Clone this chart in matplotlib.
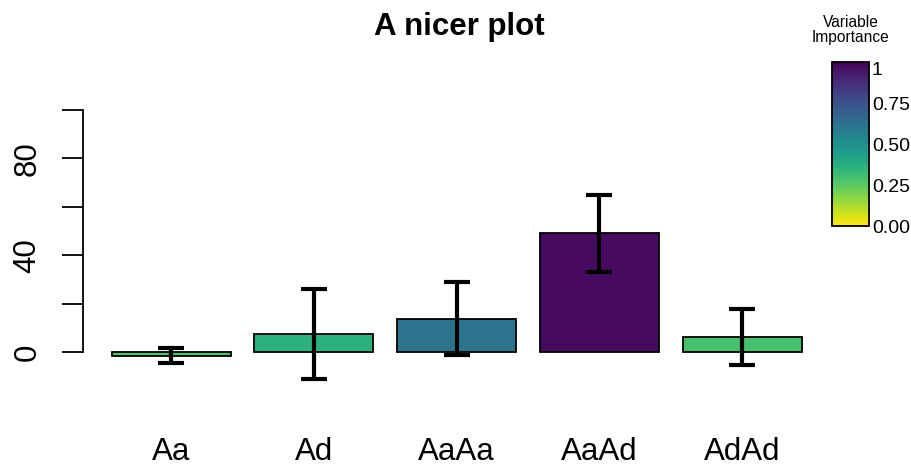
import matplotlib
matplotlib.use("Agg")
import matplotlib.pyplot as plt
import numpy as np
from matplotlib import cm, colors

plt.rcParams['font.family'] = ['Liberation Sans', 'DejaVu Sans']

categories = ["Aa", "Ad", "AaAa", "AaAd", "AdAd"]
means = [-1.5, 7.5, 13.8, 49.0, 6.2]
errors = [3.2, 18.7, 15.0, 15.8, 11.6]
importance = [0.28, 0.36, 0.62, 0.97, 0.29]
yticks = [0, 20, 40, 60, 80, 100]
ylabels = ["0", "", "40", "", "80", ""]
cbar_ticks = [0, 0.25, 0.5, 0.75, 1]
cbar_labels = ["0.00", "0.25", "0.50", "0.75", "1"]

W, H = 912, 468
fig = plt.figure(figsize=(W / 100, H / 100), dpi=100)

# axes placement (pixels)
ax_l, ax_r = 83, 854
y0_px, y100_px = 352, 110
ymin, ymax = -30, 110
ppu = (y0_px - y100_px) / 100.0
ax_bot = y0_px - ymin * ppu
ax_top = y0_px - ymax * ppu
ax = fig.add_axes([ax_l / W, 1 - ax_bot / H, (ax_r - ax_l) / W, (ax_bot - ax_top) / H])

cmap = plt.get_cmap('viridis_r')
x = 0.7 + 1.2 * np.arange(len(categories))
cols = [cmap(v) for v in importance]
ax.bar(x, means, width=1.0, color=cols, edgecolor='black', linewidth=1.3, zorder=2)
ax.errorbar(x, means, yerr=errors, fmt='none', ecolor='black', elinewidth=3,
            capsize=9.7, capthick=3, zorder=3)

ax.set_xlim(-0.04, 6.44)
ax.set_ylim(ymin, ymax)
for s in ['top', 'right', 'bottom']:
    ax.spines[s].set_visible(False)
ax.spines['left'].set_bounds(0, 100)
ax.spines['left'].set_linewidth(1.3)
ax.set_yticks(yticks)
ax.set_yticklabels(ylabels, rotation=90, va='center', fontsize=22.5)
ax.tick_params(axis='y', length=15, width=1.3, pad=14)
ax.set_xticks(x)
ax.set_xticklabels(categories, fontsize=22.5)
ax.tick_params(axis='x', length=0, pad=9)

fig.text(459 / W, 1 - 35 / H, "A nicer plot", ha='center', va='baseline',
         fontsize=22.5, fontweight='bold')

# colorbar
cax = fig.add_axes([832 / W, 1 - 226 / H, (869 - 832) / W, (226 - 62) / H])
norm = colors.Normalize(0, 1)
cb = fig.colorbar(cm.ScalarMappable(norm=norm, cmap=cmap), cax=cax)
cb.set_ticks(cbar_ticks)
cb.set_ticklabels(cbar_labels)
cb.outline.set_linewidth(1.3)
cax.tick_params(length=0, pad=2, labelsize=14)
cax.get_yticklabels()[-1].set_va('top')
fig.text(851 / W, 1 - 27 / H, "Variable", ha='center', va='baseline', fontsize=11.2)
fig.text(851 / W, 1 - 42 / H, "Importance", ha='center', va='baseline', fontsize=11.2)

fig.savefig("out.png", dpi=100)
